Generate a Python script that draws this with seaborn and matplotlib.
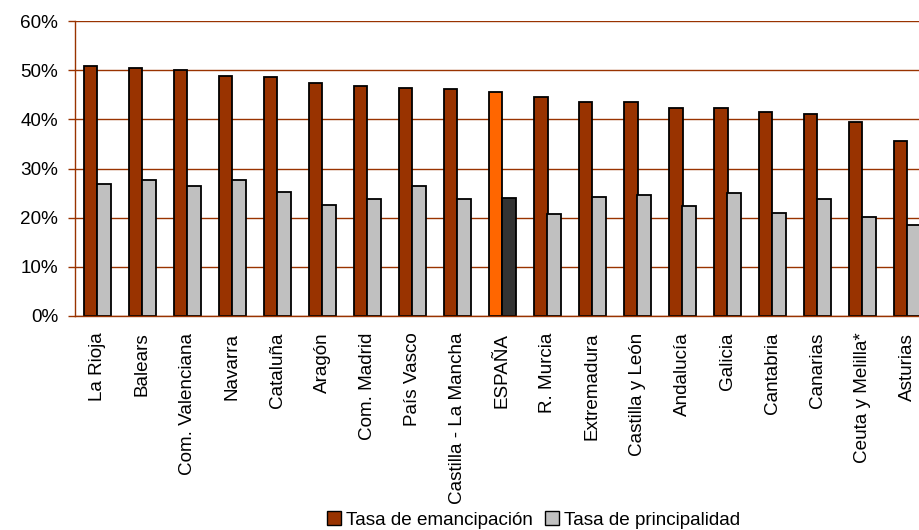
import pandas as pd
import matplotlib.pyplot as plt
import matplotlib.patches as mpatches
import seaborn as sns

# Data
regiones = ["La Rioja", "Balears", "Com. Valenciana", "Navarra", "Cataluña",
            "Aragón", "Com. Madrid", "País Vasco", "Castilla - La Mancha",
            "ESPAÑA", "R. Murcia", "Extremadura", "Castilla y León",
            "Andalucía", "Galicia", "Cantabria", "Canarias",
            "Ceuta y Melilla*", "Asturias"]
emancipacion = [0.509, 0.504, 0.500, 0.489, 0.487, 0.473, 0.467, 0.463, 0.462,
                0.455, 0.445, 0.435, 0.435, 0.424, 0.423, 0.415, 0.410,
                0.394, 0.356]
principalidad = [0.268, 0.276, 0.264, 0.276, 0.252, 0.225, 0.237, 0.264, 0.237,
                 0.241, 0.208, 0.242, 0.247, 0.224, 0.251, 0.209, 0.237,
                 0.201, 0.185]
series = ["Tasa de emancipación", "Tasa de principalidad"]

df = pd.DataFrame({
    "region": regiones * 2,
    "serie": [series[0]] * len(regiones) + [series[1]] * len(regiones),
    "tasa": emancipacion + principalidad,
})

sns.set_style("white")
plt.rcParams["font.family"] = ["Liberation Sans", "DejaVu Sans"]
plt.rcParams["font.size"] = 13.6
plt.rcParams["text.color"] = "black"
plt.rcParams["xtick.color"] = "black"
plt.rcParams["ytick.color"] = "black"

rojo = "#993300"
gris = "#C0C0C0"

fig = plt.figure(figsize=(9.2, 5.3), dpi=100)
# axes runs a bit past the right edge, as in the original crop
ax = fig.add_axes([75 / 920, 214 / 530, 855 / 920, 295 / 530])

sns.barplot(data=df, x="region", y="tasa", hue="serie",
            palette=[rojo, gris], saturation=1, width=0.578, gap=0,
            edgecolor="black", linewidth=1.3, ax=ax, legend=False)

# Spain highlighted
ax.containers[0][9].set_facecolor("#FF6600")
ax.containers[1][9].set_facecolor("#333333")

ax.set_xlim(-0.5, len(regiones) - 0.5)
ax.set_ylim(0, 0.6)
ax.set_yticks([0, 0.1, 0.2, 0.3, 0.4, 0.5, 0.6])
ax.set_yticklabels(["0%", "10%", "20%", "30%", "40%", "50%", "60%"])
ax.set_xlabel("")
ax.set_ylabel("")

ax.set_axisbelow(True)
ax.yaxis.grid(True, color=rojo, linewidth=1.0)
ax.xaxis.grid(False)
for s in ["top", "right"]:
    ax.spines[s].set_visible(False)
ax.spines["left"].set_color(rojo)
ax.spines["bottom"].set_color(rojo)
ax.spines["left"].set_linewidth(1.0)
ax.spines["bottom"].set_linewidth(1.0)

ax.tick_params(axis="y", left=True, length=5, width=1, color=rojo, pad=7,
               labelsize=13.6, labelcolor="black")
ax.tick_params(axis="x", bottom=False, length=0, pad=12, labelsize=13.6,
               labelrotation=90, labelcolor="black")
for lab in ax.get_xticklabels():
    lab.set_va("top")
    lab.set_ha("center")

handles = [mpatches.Patch(facecolor=rojo, edgecolor="black", label=series[0]),
           mpatches.Patch(facecolor=gris, edgecolor="black", label=series[1])]
fig.legend(handles=handles, loc="center", bbox_to_anchor=(0.58, 0.019),
           ncol=2, frameon=False, fontsize=13.6, handlelength=0.75,
           handleheight=0.75, handletextpad=0.3, columnspacing=0.6)

fig.savefig("out.png", dpi=100)
